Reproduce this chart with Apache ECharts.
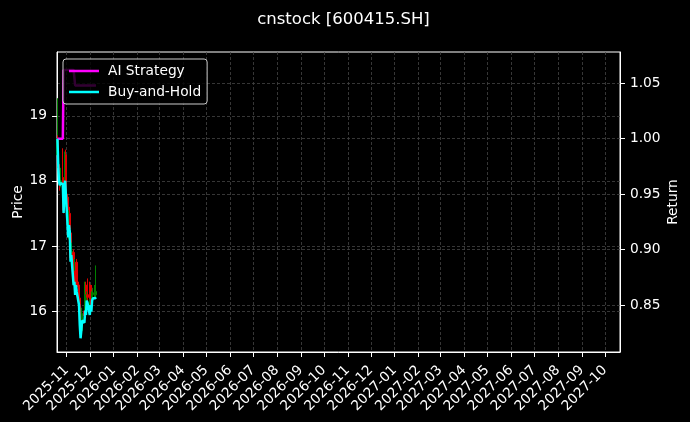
<!DOCTYPE html>
<html><head><meta charset="utf-8">
<script src="https://cdn.jsdelivr.net/npm/echarts@6/dist/echarts.min.js"></script>
<style>html,body{margin:0;padding:0;background:#000}#c{width:690px;height:422px}</style>
</head><body><div id="c"></div>
<script>
// ---- data ----
const dates = ['2025-10-20','2025-10-21','2025-10-22','2025-10-23','2025-10-24','2025-10-27','2025-10-28','2025-10-29','2025-10-30','2025-10-31',
  '2025-11-03','2025-11-04','2025-11-05','2025-11-06','2025-11-07','2025-11-10','2025-11-11','2025-11-12','2025-11-13','2025-11-14',
  '2025-11-17','2025-11-18','2025-11-19','2025-11-20','2025-11-21','2025-11-24','2025-11-25','2025-11-26','2025-11-27','2025-11-28',
  '2025-12-01','2025-12-02','2025-12-03','2025-12-04','2025-12-05','2025-12-08','2025-12-09'];
const opens  = [18.40,18.62,18.25,18.05,17.95,18.05,17.98,17.60,17.95,18.40,17.75,17.20,17.50,17.20,16.80,16.90,16.50,16.55,16.35,16.75,16.40,16.20,15.90,15.70,15.82,16.00,15.95,16.40,16.05,16.25,16.40,16.05,16.35,16.10,16.25,16.28,16.25];
const closes = [18.65,18.25,18.03,17.95,18.00,17.98,17.55,17.95,18.03,17.81,17.19,17.36,17.26,16.82,16.92,16.48,16.52,16.33,16.48,16.37,16.18,15.89,15.69,15.81,15.96,15.93,16.11,16.03,16.25,16.21,16.03,16.18,16.08,16.25,16.28,16.28,16.30];
const lows   = [18.35,18.20,17.95,17.85,17.90,17.95,17.50,17.55,17.90,17.78,17.15,17.10,17.20,16.78,16.75,16.45,16.45,16.30,16.30,16.35,16.15,15.85,15.65,15.65,15.78,15.88,15.92,16.00,16.00,16.15,16.00,16.00,16.05,16.05,16.15,16.20,16.20];
const highs  = [19.27,18.70,18.40,18.15,18.20,18.50,18.05,18.05,18.45,18.48,17.80,17.55,17.60,17.25,17.05,16.95,16.80,16.62,16.55,16.80,16.45,16.25,16.00,15.90,16.05,16.10,16.45,16.45,16.30,16.50,16.45,16.25,16.40,16.30,16.35,16.40,16.70];
const strategy = [1.000,1.000,1.000,1.000,1.000,1.000,1.062,1.062,1.062,1.062,1.062,1.062,1.062,1.062,1.062,1.062,1.062,1.048,1.048,1.048,1.048,1.048,1.048,1.048,1.048,1.048,1.048,1.048,1.048,1.048,1.048,1.048,1.048,1.048,1.048,1.048,1.048];
const buyHold  = [1.000,0.976,0.962,0.958,0.960,0.959,0.933,0.958,0.962,0.949,0.911,0.922,0.916,0.889,0.895,0.868,0.871,0.859,0.868,0.862,0.850,0.832,0.820,0.827,0.836,0.834,0.845,0.841,0.854,0.852,0.841,0.850,0.844,0.854,0.856,0.856,0.857];
const tickLabels = ['2025-11','2025-12','2026-01','2026-02','2026-03','2026-04','2026-05','2026-06','2026-07','2026-08','2026-09','2026-10','2026-11','2026-12',
  '2027-01','2027-02','2027-03','2027-04','2027-05','2027-06','2027-07','2027-08','2027-09','2027-10'];
const priceTicks = [16,17,18,19];
const returnTicks = [0.85,0.90,0.95,1.00,1.05];

// ---- helpers ----
function ts(s){ const p=s.split('-').map(Number); return new Date(p[0],p[1]-1,p[2]||1).getTime(); }
const H = 3600*1000;
const xMin = ts('2025-10-19') + 10*H;
const xMax = ts('2027-10-20') + 12*H;
const monthTicks = tickLabels.map(s=>ts(s+'-01'));
const labelMap = {}; tickLabels.forEach((s,i)=>{ labelMap[monthTicks[i]] = s; });

const FONT = 'DejaVu Sans';
const FS = 13.75;
const gridLine = {show:true, lineStyle:{color:'#444444', width:0.8, type:[3,2]}};

const chart = echarts.init(document.getElementById('c'), null, {renderer:'canvas'});
chart.setOption({
  backgroundColor:'#000',
  animation:false,
  textStyle:{fontFamily:FONT, color:'#fff'},
  title:{text:'cnstock [600415.SH]', left:338.5, textAlign:'center', top:6,
    textStyle:{color:'#fff', fontSize:16.5, fontWeight:'normal', fontFamily:FONT}},
  legend:{
    left:63, top:59, orient:'vertical', itemGap:5, itemWidth:30, itemHeight:2.5,
    padding:[4,6,4,6], backgroundColor:'rgba(0,0,0,0.8)', borderColor:'#cccccc', borderWidth:1, borderRadius:3,
    textStyle:{color:'#fff', fontSize:FS, fontFamily:FONT, lineHeight:16, padding:[0,0,0,4]},
    data:[{name:'AI Strategy', icon:'rect'},{name:'Buy-and-Hold', icon:'rect'}]
  },
  grid:{left:57, right:70, top:52, bottom:70, show:true, borderColor:'#fff', borderWidth:1, backgroundColor:'transparent',
    containLabel:false, outerBoundsMode:'none'},
  xAxis:{
    type:'value', min:xMin, max:xMax, scale:true,
    axisLine:{show:true, lineStyle:{color:'#fff', width:1}},
    axisTick:{show:true, length:5, lineStyle:{color:'#fff', width:1}, customValues:monthTicks},
    axisLabel:{show:true, rotate:45, color:'#fff', fontSize:FS, fontFamily:FONT, margin:16, customValues:monthTicks,
      formatter:function(v){ return labelMap[v] || ''; }},
    splitLine:gridLine
  },
  yAxis:[
    {type:'value', position:'left', min:15.37, max:19.98,
     name:'Price', nameLocation:'middle', nameGap:32, nameRotate:90, nameMoveOverlap:false,
     nameTextStyle:{color:'#fff', fontSize:FS, fontFamily:FONT},
     axisLine:{show:true, lineStyle:{color:'#fff'}},
     axisTick:{show:true, length:5, lineStyle:{color:'#fff'}, customValues:priceTicks},
     axisLabel:{color:'#fff', fontSize:FS, fontFamily:FONT, margin:10, customValues:priceTicks, formatter:v=>String(Math.round(v))},
     splitLine:gridLine},
    {type:'value', position:'right', min:0.8076, max:1.0782,
     name:'Return', nameLocation:'middle', nameGap:46, nameRotate:90, nameMoveOverlap:false,
     nameTextStyle:{color:'#fff', fontSize:FS, fontFamily:FONT},
     axisLine:{show:true, lineStyle:{color:'#fff'}},
     axisTick:{show:true, length:5, lineStyle:{color:'#fff'}, customValues:returnTicks},
     axisLabel:{color:'#fff', fontSize:FS, fontFamily:FONT, margin:10, customValues:returnTicks, formatter:v=>v.toFixed(2)},
     splitLine:gridLine}
  ],
  series:[
    {type:'candlestick', name:'OHLC', xAxisIndex:0, yAxisIndex:0, barWidth:2,
     itemStyle:{color:'#008000', color0:'#e00000', borderColor:'#008000', borderColor0:'#e00000', borderWidth:1},
     data:dates.map((d,i)=>[ts(d), opens[i], closes[i], lows[i], highs[i]])},
    {type:'line', name:'AI Strategy', yAxisIndex:1, showSymbol:false, symbol:'none',
     lineStyle:{color:'#ff00ff', width:2.5}, itemStyle:{color:'#ff00ff'},
     data:dates.map((d,i)=>[ts(d), strategy[i]])},
    {type:'line', name:'Buy-and-Hold', yAxisIndex:1, showSymbol:false, symbol:'none',
     lineStyle:{color:'#00ffff', width:2.5}, itemStyle:{color:'#00ffff'},
     data:dates.map((d,i)=>[ts(d), buyHold[i]])}
  ]
});
</script>
</body></html>
